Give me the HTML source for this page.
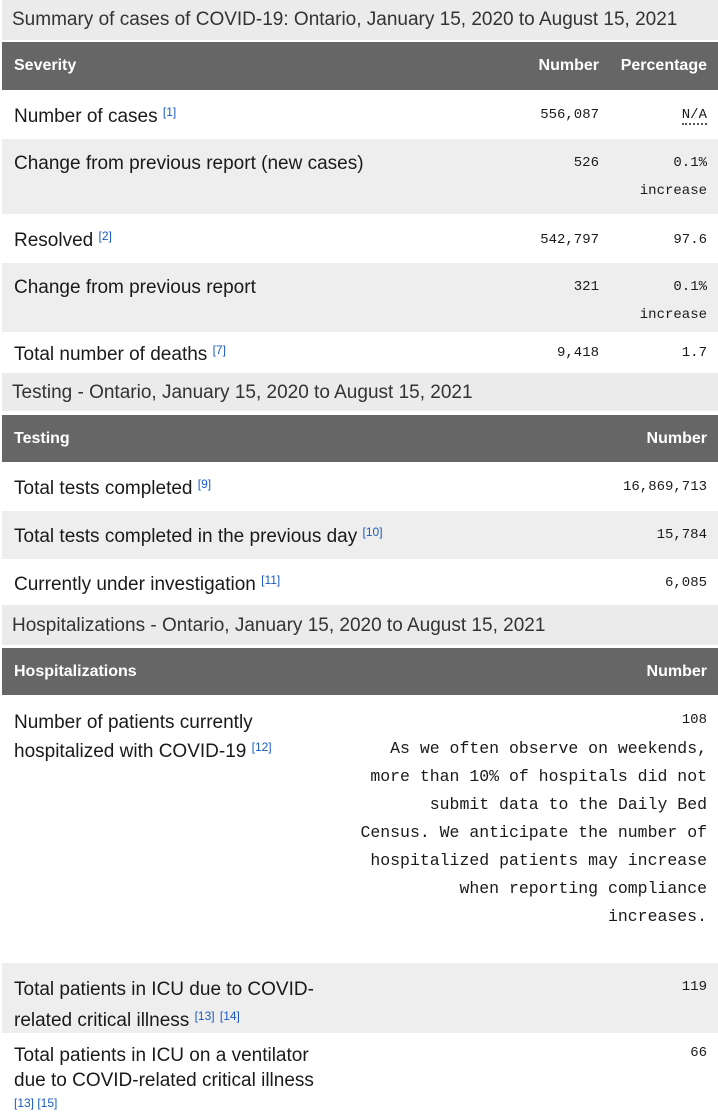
<!DOCTYPE html>
<html><head><meta charset="utf-8"><style>
body{margin:0;width:718px;height:1116px;background:#fff;position:relative;overflow:hidden;font-family:"Liberation Sans",sans-serif;color:#1a1a1a}
.b{position:absolute;left:2px;width:716px}
.cap{background:#ebebeb;color:#333;font-size:18px}
.hd{background:#666;color:#fff;font-weight:bold;font-size:16px}
.g{background:#eee}
.t{position:absolute;white-space:nowrap}
.s{font-size:19px}
.m{font-family:"Liberation Mono",monospace;font-size:14px;text-align:right}
sup{color:#1a5bc4;font-size:12px;vertical-align:6px}
.n{font-family:"Liberation Mono",monospace;font-size:16.5px;text-align:right;line-height:28px}
</style></head><body>
<div class="b cap" style="top:0;height:40px"></div>
<div class="t" style="left:12px;top:9px;font-size:19px;color:#333">Summary of cases of COVID-19: Ontario, January 15, 2020 to August 15, 2021</div>
<div class="b hd" style="top:42px;height:48px"></div>
<div class="t" style="left:14px;top:57px;color:#fff;font-weight:bold;font-size:16px">Severity</div>
<div class="t" style="right:119px;top:57px;color:#fff;font-weight:bold;font-size:16px">Number</div>
<div class="t" style="right:11px;top:57px;color:#fff;font-weight:bold;font-size:16px">Percentage</div>

<div class="b g" style="top:139px;height:75px"></div>
<div class="b g" style="top:263px;height:69px"></div>

<div class="t s" style="left:14px;top:105px">Number of cases <sup>[1]</sup></div>
<div class="t m" style="right:119px;top:107px">556,087</div>
<div class="t m" style="right:11px;top:107px;border-bottom:2px dotted #555">N/A</div>
<div class="t s" style="left:14px;top:153px">Change from previous report (new cases)</div>
<div class="t m" style="right:119px;top:155px">526</div>
<div class="t m" style="right:11px;top:155px">0.1%</div>
<div class="t m" style="right:11px;top:183px">increase</div>
<div class="t s" style="left:14px;top:229px">Resolved <sup>[2]</sup></div>
<div class="t m" style="right:119px;top:232px">542,797</div>
<div class="t m" style="right:11px;top:232px">97.6</div>
<div class="t s" style="left:14px;top:277px">Change from previous report</div>
<div class="t m" style="right:119px;top:279px">321</div>
<div class="t m" style="right:11px;top:279px">0.1%</div>
<div class="t m" style="right:11px;top:307px">increase</div>
<div class="t s" style="left:14px;top:343px">Total number of deaths <sup>[7]</sup></div>
<div class="t m" style="right:119px;top:345px">9,418</div>
<div class="t m" style="right:11px;top:345px">1.7</div>

<div class="b cap" style="top:373px;height:38px"></div>
<div class="t" style="left:12px;top:382px;font-size:19px;color:#333">Testing - Ontario, January 15, 2020 to August 15, 2021</div>
<div class="b hd" style="top:415px;height:47px"></div>
<div class="t" style="left:14px;top:430px;color:#fff;font-weight:bold;font-size:16px">Testing</div>
<div class="t" style="right:11px;top:430px;color:#fff;font-weight:bold;font-size:16px">Number</div>
<div class="b g" style="top:511px;height:48px"></div>
<div class="t s" style="left:14px;top:477px">Total tests completed <sup>[9]</sup></div>
<div class="t m" style="right:11px;top:479px">16,869,713</div>
<div class="t s" style="left:14px;top:525px">Total tests completed in the previous day <sup>[10]</sup></div>
<div class="t m" style="right:11px;top:527px">15,784</div>
<div class="t s" style="left:14px;top:573px">Currently under investigation <sup>[11]</sup></div>
<div class="t m" style="right:11px;top:575px">6,085</div>

<div class="b cap" style="top:605px;height:40px"></div>
<div class="t" style="left:12px;top:615px;font-size:19px;color:#333">Hospitalizations - Ontario, January 15, 2020 to August 15, 2021</div>
<div class="b hd" style="top:648px;height:47px"></div>
<div class="t" style="left:14px;top:663px;color:#fff;font-weight:bold;font-size:16px">Hospitalizations</div>
<div class="t" style="right:11px;top:663px;color:#fff;font-weight:bold;font-size:16px">Number</div>
<div class="t s" style="left:14px;top:710px;line-height:25px">Number of patients currently<br>hospitalized with COVID-19 <sup>[12]</sup></div>
<div class="t m" style="right:11px;top:712px">108</div>
<div class="t n" style="right:11px;top:735px">As we often observe on weekends,<br>more than 10% of hospitals did not<br>submit data to the Daily Bed<br>Census. We anticipate the number of<br>hospitalized patients may increase<br>when reporting compliance<br>increases.</div>
<div class="b g" style="top:963px;height:70px"></div>
<div class="t s" style="left:14px;top:976px;line-height:27px">Total patients in ICU due to COVID-<br>related critical illness <sup>[13]</sup> <sup>[14]</sup></div>
<div class="t m" style="right:11px;top:979px">119</div>
<div class="t s" style="left:14px;top:1043px;line-height:25px">Total patients in ICU on a ventilator<br>due to COVID-related critical illness</div>
<div class="t" style="left:14px;top:1096px;font-size:12px;color:#1a5bc4">[13] [15]</div>
<div class="t m" style="right:11px;top:1045px">66</div>
</body></html>
